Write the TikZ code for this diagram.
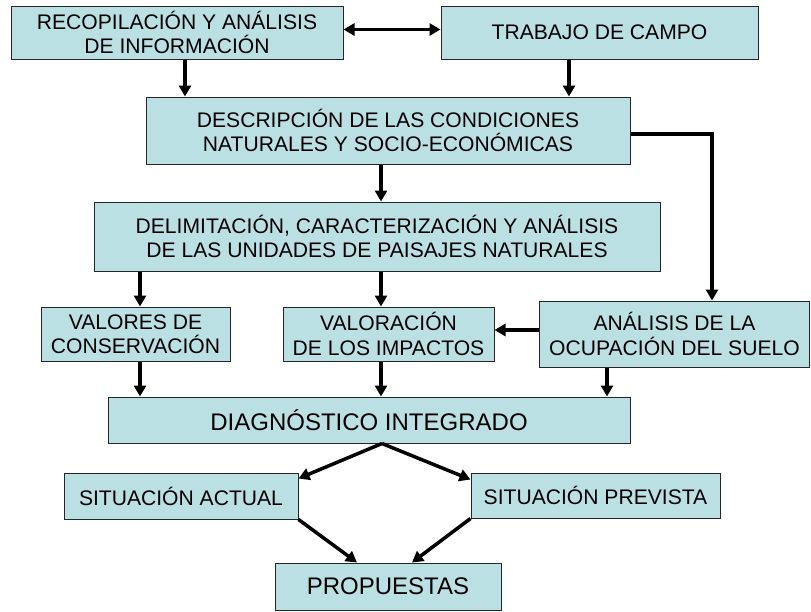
\documentclass[tikz,border=0pt]{standalone}
\usepackage{fontspec}
\setmainfont{Liberation Sans}
\usetikzlibrary{arrows.meta}

\definecolor{cajafill}{RGB}{187,224,227}

\tikzset{
  >={Triangle[length=11pt,width=12pt]},
  caja/.style={draw=black!85, line width=1pt, fill=cajafill, inner sep=0pt, align=center,
    font=\fontsize{21.1}{24.5}\selectfont},
  cajagrande/.style={caja, font=\fontsize{24}{27}\selectfont},
  flecha/.style={line width=3.5pt, ->},
  dobleflecha/.style={line width=3.5pt, <->}
}

\begin{document}
\begin{tikzpicture}[x=1pt, y=-1pt]

\useasboundingbox (0,0) rectangle (811,611);

% cajas
\node[caja, minimum width=332pt, minimum height=53pt] (recopilacion) at (177,32.5) {RECOPILACIÓN Y ANÁLISIS\\DE INFORMACIÓN};
\node[caja, minimum width=317pt, minimum height=53pt] (campo) at (599.5,32.5) {TRABAJO DE CAMPO};
\node[caja, minimum width=484pt, minimum height=67pt] (descripcion) at (388,130.5) {DESCRIPCIÓN DE LAS CONDICIONES\\NATURALES Y SOCIO-ECONÓMICAS};
\node[caja, minimum width=566pt, minimum height=69pt] (delimitacion) at (377,236.5) {DELIMITACIÓN, CARACTERIZACIÓN Y ANÁLISIS\\DE LAS UNIDADES DE PAISAJES NATURALES};
\node[caja, minimum width=189pt, minimum height=54pt] (valores) at (135.5,334) {VALORES DE\\CONSERVACIÓN};
\node[caja, minimum width=211pt, minimum height=54pt] (impactos) at (388.5,334) {VALORACIÓN\\DE LOS IMPACTOS};
\node[caja, minimum width=270pt, minimum height=66pt] (ocupacion) at (674.5,334) {ANÁLISIS DE LA\\OCUPACIÓN DEL SUELO};
\node[cajagrande, minimum width=522pt, minimum height=46pt] (diagnostico) at (369,420) {DIAGNÓSTICO INTEGRADO};
\node[caja, minimum width=234pt, minimum height=46pt] (actual) at (181,496) {SITUACIÓN ACTUAL};
\node[caja, minimum width=249pt, minimum height=45pt] (prevista) at (595.5,495.5) {SITUACIÓN PREVISTA};
\node[cajagrande, minimum width=226pt, minimum height=47pt] (propuestas) at (388,586.5) {PROPUESTAS};

% flechas
\draw[dobleflecha] ([yshift=3pt]recopilacion.east) -- ([yshift=3pt]campo.west);
\draw[flecha] ([xshift=8pt]recopilacion.south) -- ([xshift=8pt]recopilacion.south |- descripcion.north);
\draw[flecha] ([xshift=-30.5pt]campo.south) -- ([xshift=-30.5pt]campo.south |- descripcion.north);
\draw[flecha] ([yshift=-3.5pt]descripcion.east) -| ([xshift=37.5pt]ocupacion.north);
\draw[flecha] ([xshift=-7pt]descripcion.south) -- ([xshift=-7pt]descripcion.south |- delimitacion.north);

\draw[flecha] ([xshift=4.5pt]valores.north |- delimitacion.south) -- ([xshift=4.5pt]valores.north);
\draw[flecha] ([xshift=-7.5pt]impactos.north |- delimitacion.south) -- ([xshift=-7.5pt]impactos.north);
\draw[flecha] ([yshift=4pt]ocupacion.west) -- ([yshift=4pt]ocupacion.west -| impactos.east);

\draw[flecha] ([xshift=4.5pt]valores.south) -- ([xshift=4.5pt]valores.south |- diagnostico.north);
\draw[flecha] ([xshift=-7.5pt]impactos.south) -- ([xshift=-7.5pt]impactos.south |- diagnostico.north);
\draw[flecha] ([xshift=-67.5pt]ocupacion.south) -- ([xshift=-67.5pt]ocupacion.south |- diagnostico.north);

\draw[flecha] ([xshift=13pt]diagnostico.south) -- ([yshift=-6pt]actual.north east);
\draw[flecha] ([xshift=13pt]diagnostico.south) -- ([yshift=-7pt]prevista.north west);
\draw[flecha] (actual.south east) -- ([xshift=-31pt]propuestas.north);
\draw[flecha] (prevista.south west) -- ([xshift=24pt]propuestas.north);

\end{tikzpicture}
\end{document}
